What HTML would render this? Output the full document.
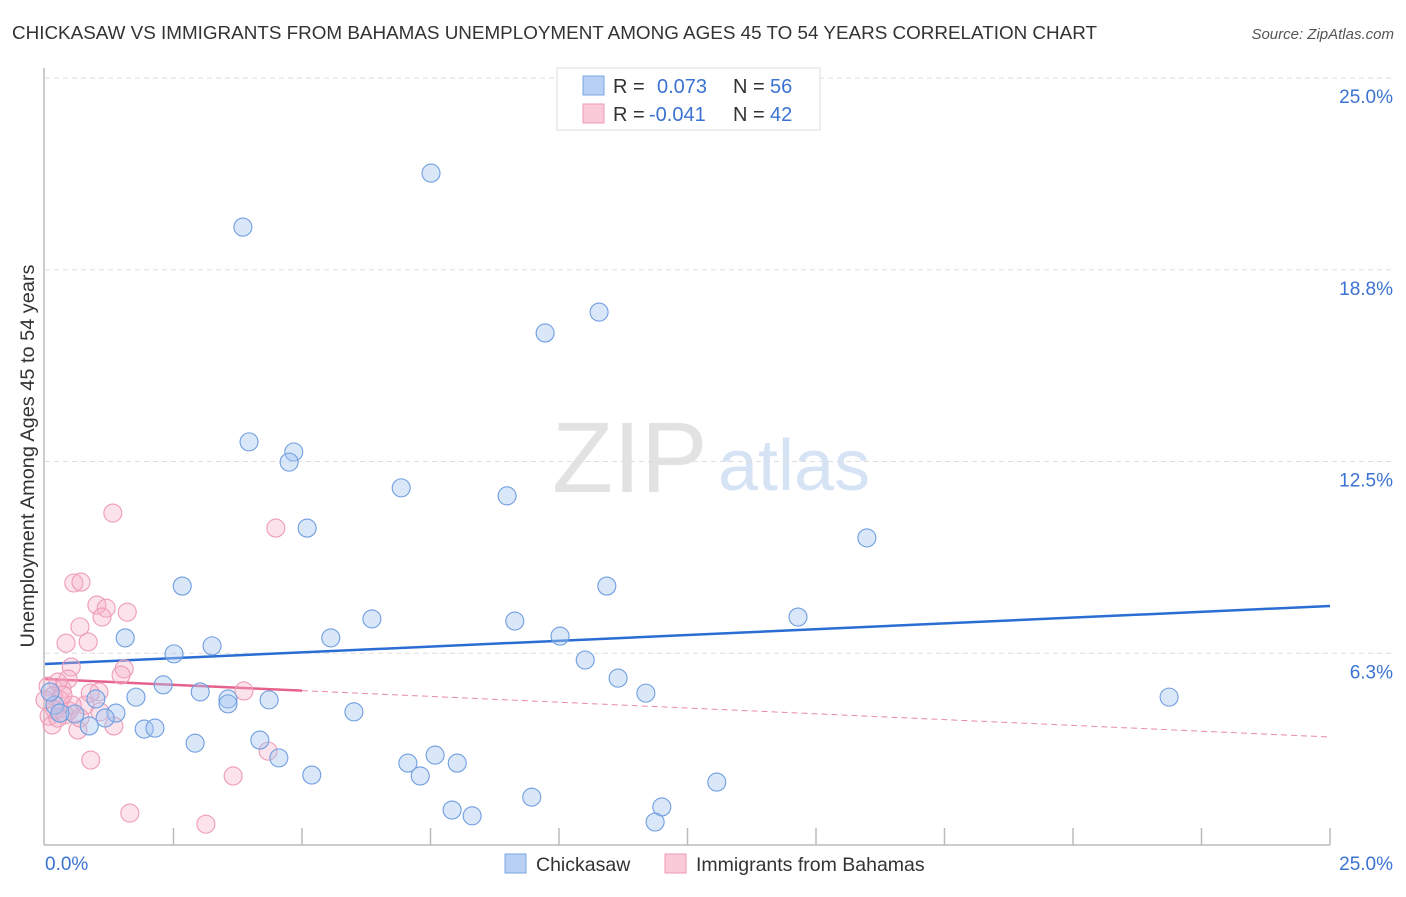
<!DOCTYPE html>
<html><head><meta charset="utf-8"><style>
body{margin:0;background:#fff;font-family:"Liberation Sans",sans-serif;}
svg text{font-family:"Liberation Sans",sans-serif;}
</style></head><body>
<svg id="chart" width="1406" height="892" xmlns="http://www.w3.org/2000/svg">
<text x="12" y="39" font-size="18.8" fill="#333" textLength="1085" lengthAdjust="spacingAndGlyphs">CHICKASAW VS IMMIGRANTS FROM BAHAMAS UNEMPLOYMENT AMONG AGES 45 TO 54 YEARS CORRELATION CHART</text>
<text x="1394" y="39" font-size="15" fill="#555" font-style="italic" text-anchor="end">Source: ZipAtlas.com</text>
<g>
<text x="552" y="492" font-size="100" fill="#e2e2e2" font-family="Liberation Serif, serif">ZIP</text>
<text x="718" y="490" font-size="72" fill="#d6e3f5">atlas</text>
</g>
<g id="grid"></g>
<g id="axes"></g>
<g id="trends"></g>
<g id="pts"></g>
<text transform="translate(34,456) rotate(-90)" font-size="19" fill="#333" text-anchor="middle" textLength="383" lengthAdjust="spacingAndGlyphs">Unemployment Among Ages 45 to 54 years</text>
<g>
<rect x="557" y="68" width="263" height="62" fill="#fff" stroke="#ddd"/>
<rect x="583" y="76" width="21" height="19" fill="#b7d0f3" stroke="#7aa6e3"/>
<rect x="583" y="104" width="21" height="19" fill="#fbcad9" stroke="#ef9ab4"/>
<text x="613" y="93" font-size="20" fill="#333">R =</text><text x="657" y="93" font-size="20" fill="#3b73d1">0.073</text>
<text x="733" y="93" font-size="20" fill="#333">N =</text><text x="770" y="93" font-size="20" fill="#3b73d1">56</text>
<text x="613" y="121" font-size="20" fill="#333">R =</text><text x="649" y="121" font-size="20" fill="#3b73d1">-0.041</text>
<text x="733" y="121" font-size="20" fill="#333">N =</text><text x="770" y="121" font-size="20" fill="#3b73d1">42</text>
</g>
<g>
<g><rect x="505" y="854" width="21" height="19" fill="#b7d0f3" stroke="#7aa6e3"/><text x="536" y="871" font-size="19.5" fill="#333">Chickasaw</text></g>
<g><rect x="665" y="854" width="21" height="19" fill="#fbcad9" stroke="#ef9ab4"/><text x="696" y="871" font-size="19.5" fill="#333">Immigrants from Bahamas</text></g>
</g>
</svg>
<script>
const yTicks=[6.25,12.5,18.75,25];
const yTickLabels=["6.3%","12.5%","18.8%","25.0%"];
const xTickVals=[2.5,5,7.5,10,12.5,15,17.5,20,22.5,25];
const blueX=[7.51,3.85,10.78,9.73,3.97,4.84,4.75,6.93,8.99,5.10,15.99,2.67,10.93,14.65,6.36,9.14,1.56,5.56,10.02,3.25,2.51,10.51,11.15,2.30,3.02,11.69,21.87,1.77,0.99,3.56,4.36,3.56,6.01,1.38,0.58,1.17,0.86,1.93,2.14,4.18,2.92,4.55,7.59,7.06,8.02,7.30,5.19,13.07,9.47,7.92,12.00,8.31,11.87,0.19,0.29,0.10];
const blueY=[21.9,20.14,17.37,16.69,13.14,12.81,12.48,11.64,11.38,10.33,10.01,8.44,8.44,7.43,7.37,7.30,6.75,6.75,6.81,6.49,6.23,6.03,5.44,5.22,4.99,4.95,4.82,4.82,4.76,4.76,4.73,4.60,4.34,4.30,4.27,4.14,3.88,3.78,3.81,3.42,3.32,2.84,2.93,2.67,2.67,2.25,2.28,2.05,1.56,1.14,1.24,0.95,0.75,4.56,4.30,4.99];
const pinkX=[1.32,4.49,0.56,0.70,1.01,1.19,1.60,1.11,0.68,0.84,0.41,0.51,1.54,1.48,0.45,0.25,3.87,1.05,0.33,0.06,0.16,0.78,0.47,1.07,0.08,1.34,0.64,0.14,0.89,4.34,3.66,1.65,3.13,0.29,0.19,0.39,0.53,0.0,0.25,0.88,0.35,0.68];
const pinkY=[10.82,10.33,8.54,8.57,7.82,7.72,7.59,7.43,7.11,6.62,6.58,5.80,5.74,5.54,5.41,5.31,5.02,4.99,5.08,5.18,4.86,4.56,4.37,4.34,4.20,3.88,3.75,3.91,2.77,3.06,2.25,1.04,0.68,4.73,4.40,4.24,4.56,4.73,4.14,4.95,4.89,4.14];
const blueTrend=[5.9,7.79];
const pinkTrend=[5.41,3.52];
const pinkSolidEnd=5;
const NS="http://www.w3.org/2000/svg";
const X=v=>45+v*51.4, Y=v=>845-v*30.68;
function mk(tag,attrs,parent){const e=document.createElementNS(NS,tag);for(const k in attrs)e.setAttribute(k,attrs[k]);parent.appendChild(e);return e;}
const grid=document.getElementById('grid'),axes=document.getElementById('axes'),tr=document.getElementById('trends'),pts=document.getElementById('pts');
yTicks.forEach((t,i)=>{
 const l=mk('line',{x1:45,x2:1394,y1:Y(t),y2:Y(t),stroke:'#ddd','stroke-dasharray':'5,4'},grid);
 
 
 const tx=mk('text',{x:1393,y:Y(t)+25,'font-size':19,fill:'#3b73d1','text-anchor':'end'},axes);
 tx.textContent=yTickLabels[i];
 
 
});
mk('line',{x1:44,x2:44,y1:68,y2:845,stroke:'#bbb','stroke-width':1.5},axes);
mk('line',{x1:44,x2:1330,y1:845,y2:845,stroke:'#bbb','stroke-width':1.5},axes);
xTickVals.forEach(t=>{const l=mk('line',{x1:X(t),x2:X(t),y1:828,y2:845,stroke:'#bbb','stroke-width':1.5},axes);
 
 });
const x0=mk('text',{x:45,y:870,'font-size':19,fill:'#3b73d1'},axes);x0.textContent="0.0%";


const x1=mk('text',{x:1393,y:870,'font-size':19,fill:'#3b73d1','text-anchor':'end'},axes);x1.textContent="25.0%";


function dot(x,y,fill,stroke,name){const c=mk('circle',{cx:X(x),cy:Y(y),r:9,fill:fill,stroke:stroke,'stroke-width':1.1},pts);
 
 }
pinkX.forEach((x,i)=>dot(x,pinkY[i],'rgba(246,175,198,0.35)','#ee9bb6','bahamas-point'));
blueX.forEach((x,i)=>dot(x,blueY[i],'rgba(165,198,240,0.42)','#6f9ee0','chickasaw-point'));
const pAt=v=>pinkTrend[0]+(pinkTrend[1]-pinkTrend[0])*v/25;
const bl=mk('line',{x1:X(0),y1:Y(blueTrend[0]),x2:X(25),y2:Y(blueTrend[1]),stroke:'#2a6dd3','stroke-width':2.5},tr);


const ps=mk('line',{x1:X(0),y1:Y(pAt(0)),x2:X(pinkSolidEnd),y2:Y(pAt(pinkSolidEnd)),stroke:'#e5628d','stroke-width':2.5},tr);


const pd=mk('line',{x1:X(pinkSolidEnd),y1:Y(pAt(pinkSolidEnd)),x2:X(25),y2:Y(pAt(25)),stroke:'#e98aab','stroke-width':1,'stroke-dasharray':'6,4'},tr);


</script>
</body></html>
